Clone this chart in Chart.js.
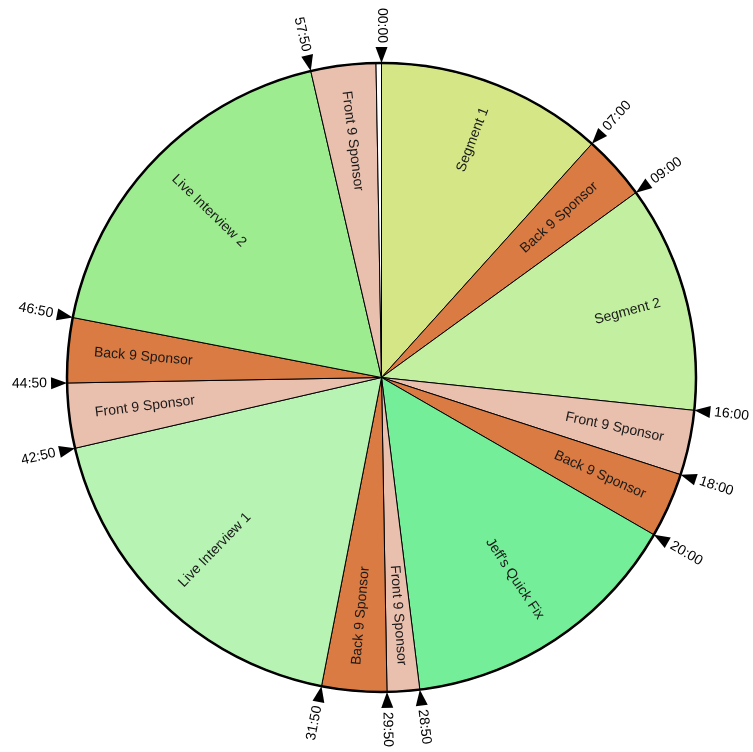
<!DOCTYPE html>
<html>
<head>
<meta charset="utf-8">
<title>Show clock</title>
<script src="https://cdn.jsdelivr.net/npm/chart.js@4.4.1/dist/chart.umd.min.js"></script>
<style>
  html, body { margin: 0; padding: 0; background: #fff; }
  #wrap { width: 753px; height: 752px; }
</style>
</head>
<body>
<div id="wrap"><canvas id="clockChart" width="753" height="752"></canvas></div>
<script>
// Show segments, clockwise from the top of the hour
const segmentNames = [
  "Segment 1", "Back 9 Sponsor", "Segment 2", "Front 9 Sponsor", "Back 9 Sponsor",
  "Jeff's Quick Fix", "Front 9 Sponsor", "Back 9 Sponsor", "Live Interview 1",
  "Front 9 Sponsor", "Back 9 Sponsor", "Live Interview 2", "Front 9 Sponsor", ""
];
// Length of each segment in seconds
const segmentSeconds = [420, 120, 420, 120, 120, 530, 60, 120, 660, 120, 120, 660, 120, 10];
// Start time marked at the edge of each segment
const startLabels = [
  "00:00", "07:00", "09:00", "16:00", "18:00", "20:00", "28:50",
  "29:50", "31:50", "42:50", "44:50", "46:50", "57:50", null
];
const segmentColors = [
  "#d4e686", "#d97b42", "#c3f0a0", "#e9bfae", "#d97b42", "#74ee98", "#e9bfae",
  "#d97b42", "#b7f4b4", "#e9bfae", "#d97b42", "#9eec90", "#e9bfae", "#ffffff"
];

const FONT = "14px 'Liberation Sans', Arial, Helvetica, sans-serif";

// true when the angle sits on the right half of the clock
function onRightSide(a) {
  let t = (a + Math.PI / 2) % (2 * Math.PI);
  if (t < 0) t += 2 * Math.PI;
  return t > 1e-6 && t < Math.PI + 1e-6;
}

// Draw text along the radius; "outer" anchors the far end, "inner" the near end
function radialText(ctx, cx, cy, a, rad, text, anchor, color) {
  const right = onRightSide(a);
  ctx.save();
  ctx.translate(cx + rad * Math.cos(a), cy + rad * Math.sin(a));
  ctx.rotate(right ? a : a + Math.PI);
  if (anchor === "outer") {
    ctx.textAlign = right ? "right" : "left";
  } else {
    ctx.textAlign = right ? "left" : "right";
  }
  ctx.textBaseline = "middle";
  ctx.fillStyle = color;
  ctx.fillText(text, 0, 0);
  ctx.restore();
}

const clockLabels = {
  id: "clockLabels",
  afterDatasetsDraw(chart) {
    const ctx = chart.ctx;
    const arcs = chart.getDatasetMeta(0).data;
    const cx = arcs[0].x;
    const cy = arcs[0].y;
    const r = arcs[0].outerRadius;

    ctx.save();
    ctx.font = FONT;

    // heavier outer rim
    ctx.beginPath();
    ctx.arc(cx, cy, r, 0, 2 * Math.PI);
    ctx.lineWidth = 2.5;
    ctx.strokeStyle = "#000";
    ctx.stroke();

    arcs.forEach((arc, i) => {
      const name = segmentNames[i];
      if (name) {
        const mid = (arc.startAngle + arc.endAngle) / 2;
        radialText(ctx, cx, cy, mid, r - 26, name, "outer", "#1a1a1a");
      }

      const tick = startLabels[i];
      if (tick) {
        const a = arc.startAngle;
        // marker triangle pointing at the rim
        ctx.save();
        ctx.translate(cx, cy);
        ctx.rotate(a);
        ctx.beginPath();
        ctx.moveTo(r, 0);
        ctx.lineTo(r + 16, -6);
        ctx.lineTo(r + 16, 6);
        ctx.closePath();
        ctx.fillStyle = "#000";
        ctx.fill();
        ctx.restore();

        radialText(ctx, cx, cy, a, r + 20, tick, "inner", "#000");
      }
    });

    ctx.restore();
  }
};

new Chart(document.getElementById("clockChart"), {
  type: "pie",
  data: {
    labels: segmentNames,
    datasets: [
      {
        data: segmentSeconds,
        backgroundColor: segmentColors,
        borderColor: "#000",
        borderWidth: 1,
        hoverOffset: 0,
      },
    ],
  },
  options: {
    responsive: false,
    animation: false,
    layout: {
      padding: { top: 62.5, bottom: 59.5, left: 66.5, right: 56.5 },
    },
    plugins: {
      legend: { display: false },
      tooltip: { enabled: false },
    },
  },
  plugins: [clockLabels],
});
</script>
</body>
</html>
